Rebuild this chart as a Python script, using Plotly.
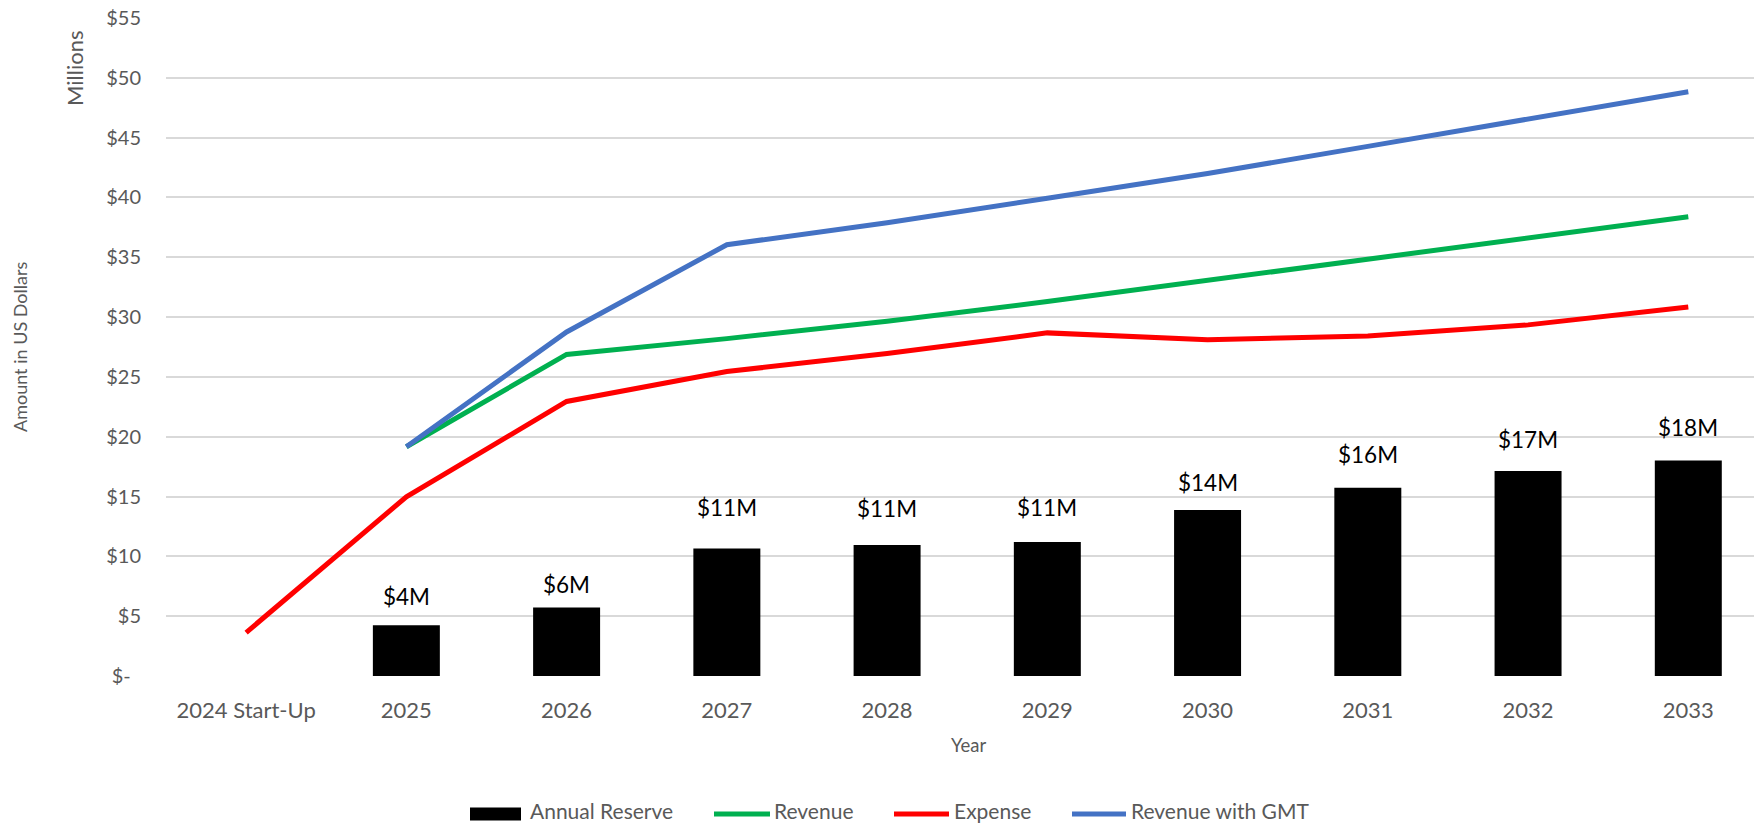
import plotly.graph_objects as go

# ---------------- data (values in millions of US dollars) ----------------
categories = ["2024 Start-Up", "2025", "2026", "2027", "2028", "2029",
              "2030", "2031", "2032", "2033"]
annual_reserve = [None, 4.24, 5.72, 10.66, 10.94, 11.21, 13.87, 15.73, 17.13, 18.02]
revenue = [None, 19.16, 26.88, 28.2, 29.65, 31.3, 33.05, 34.78, 36.6, 38.38]
expense = [3.63, 14.98, 22.95, 25.45, 26.95, 28.68, 28.1, 28.42, 29.35, 30.85]
revenue_gmt = [None, 19.16, 28.76, 36.05, 37.88, 39.94, 42.0, 44.27, 46.56, 48.84]

y_tick_values = [0, 5, 10, 15, 20, 25, 30, 35, 40, 45, 50, 55]
y_tick_labels = ["$-\u00a0\u00a0"] + [f"${v}" for v in y_tick_values[1:]]

# styling
FONT = "Lato, 'Open Sans', sans-serif"
GREY = "#595959"
C_RES = "#000000"
C_REV = "#00B050"
C_EXP = "#FF0000"
C_GMT = "#4472C4"
label_offsets_px = [29, 23, 41, 37, 34, 28, 33, 32, 33]

W, H = 1754, 826
ML, MR, MT, MB = 166, 0, 18, 150
PW, PH = W - ML - MR, H - MT - MB


def px_x(p):
    return (p - ML) / PW


def px_y(p):
    return (H - MB - p) / PH


fig = go.Figure()

fig.add_trace(go.Bar(
    x=categories, y=annual_reserve, name="Annual Reserve",
    marker=dict(color=C_RES, line=dict(width=0)), width=0.418,
    showlegend=False,
))
for name, vals, col in [("Revenue", revenue, C_REV),
                        ("Expense", expense, C_EXP),
                        ("Revenue with GMT", revenue_gmt, C_GMT)]:
    fig.add_trace(go.Scatter(
        x=categories, y=vals, name=name, mode="lines",
        line=dict(color=col, width=5), showlegend=False,
    ))

annotations = []
# data labels above bars (x given as category index)
k = 0
for i, v in enumerate(annual_reserve):
    if v is None:
        continue
    annotations.append(dict(
        x=i, y=v, xref="x", yref="y", text=f"${round(v)}M",
        showarrow=False, xanchor="center", yanchor="middle",
        yshift=label_offsets_px[k],
        font=dict(family=FONT, size=22.5, color="#000000"),
    ))
    k += 1

# axis titles
annotations.append(dict(
    x=px_x(20), y=px_y(347), xref="paper", yref="paper",
    text="Amount in US Dollars", textangle=-90, showarrow=False,
    xanchor="center", yanchor="middle",
    font=dict(family=FONT, size=18, color=GREY),
))
annotations.append(dict(
    x=px_x(74), y=px_y(69), xref="paper", yref="paper",
    text="Millions", textangle=-90, showarrow=False,
    xanchor="center", yanchor="middle",
    font=dict(family=FONT, size=22, color=GREY),
))
annotations.append(dict(
    x=px_x(968), y=px_y(745), xref="paper", yref="paper",
    text="Year", showarrow=False, xanchor="center", yanchor="middle",
    font=dict(family=FONT, size=18.5, color=GREY),
))

# manual legend
shapes = []
LEG_Y = 814
TXT_Y = 811
shapes.append(dict(type="rect", xref="paper", yref="paper",
                   x0=px_x(470), x1=px_x(521), y0=px_y(820.5), y1=px_y(807.5),
                   fillcolor=C_RES, line=dict(width=0)))
legend_items = [
    ("Annual Reserve", None, 528),
    ("Revenue", (714, 770, C_REV), 772),
    ("Expense", (894, 949, C_EXP), 952),
    ("Revenue with GMT", (1072, 1126, C_GMT), 1129),
]
for text, line, tx in legend_items:
    if line is not None:
        x0, x1, col = line
        shapes.append(dict(type="line", xref="paper", yref="paper",
                           x0=px_x(x0), x1=px_x(x1), y0=px_y(LEG_Y), y1=px_y(LEG_Y),
                           line=dict(color=col, width=5)))
    annotations.append(dict(
        x=px_x(tx), y=px_y(TXT_Y), xref="paper", yref="paper", text=text,
        showarrow=False, xanchor="left", yanchor="middle",
        font=dict(family=FONT, size=21, color=GREY),
    ))

fig.update_layout(
    width=W, height=H,
    margin=dict(l=ML, r=MR, t=MT, b=MB, autoexpand=False),
    paper_bgcolor="white", plot_bgcolor="white",
    font=dict(family=FONT, color=GREY),
    barmode="overlay",
    showlegend=False,
    annotations=annotations,
    shapes=shapes,
)
fig.update_xaxes(
    type="category", range=[-0.5, 9.41],
    showgrid=False, showline=False, zeroline=False, ticks="",
    tickfont=dict(family=FONT, size=22, color=GREY),
    ticklabelstandoff=19,
)
fig.update_yaxes(
    range=[0, 55], tickvals=y_tick_values, ticktext=y_tick_labels,
    showgrid=True, gridcolor="#D9D9D9", gridwidth=1.5,
    showline=False, zeroline=False, ticks="",
    tickfont=dict(family=FONT, size=20, color=GREY),
    ticklabelstandoff=24,
)

fig.write_html("out.html")
